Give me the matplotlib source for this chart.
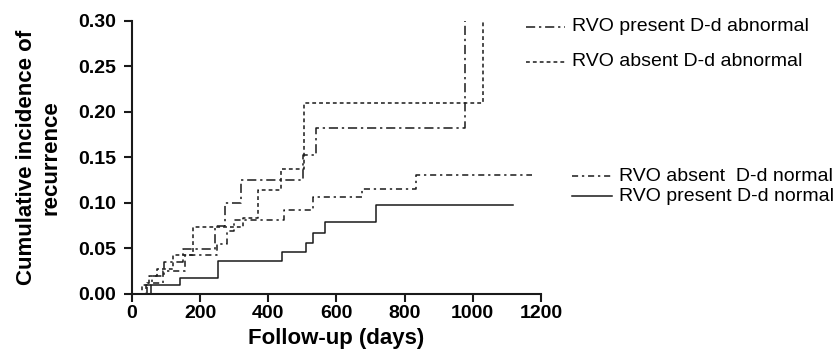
import matplotlib
matplotlib.use("Agg")
import matplotlib.pyplot as plt
from matplotlib.lines import Line2D

plt.rcParams['font.family'] = ['Liberation Sans', 'DejaVu Sans']

# step curves (days, cumulative incidence)
pres_abn_days = [0, 40, 60, 95, 150, 244, 274, 321, 501, 540, 976]
pres_abn_vals = [0, 0.009, 0.019, 0.035, 0.049, 0.074, 0.100, 0.125, 0.152, 0.182, 0.60]

abs_abn_days = [0, 30, 50, 75, 120, 178, 325, 369, 438, 506, 1030]
abs_abn_vals = [0, 0.009, 0.019, 0.027, 0.042, 0.0736, 0.083, 0.114, 0.137, 0.209, 0.60]

abs_norm_days = [0, 45, 90, 155, 250, 280, 300, 447, 530, 676, 834, 1175]
abs_norm_vals = [0, 0.012, 0.025, 0.042, 0.055, 0.069, 0.081, 0.092, 0.106, 0.115, 0.130, 0.130]

pres_norm_days = [0, 55, 140, 252, 440, 512, 531, 566, 715, 1117]
pres_norm_vals = [0, 0.0092, 0.0176, 0.036, 0.0455, 0.056, 0.067, 0.0788, 0.0975, 0.0975]

labels = ["RVO present D-d abnormal", "RVO absent D-d abnormal",
          "RVO absent  D-d normal", "RVO present D-d normal"]
xticks = [0, 200, 400, 600, 800, 1000, 1200]
yticks = [0.00, 0.05, 0.10, 0.15, 0.20, 0.25, 0.30]

col = '#1a1a1a'
ls_pres_abn = (0, (6, 2.5, 1.5, 2.5))
ls_abs_abn = (0, (2.5, 2))
ls_abs_norm = (0, (4, 2.5, 1.5, 2.5))
ls_pres_norm = '-'

fig = plt.figure(figsize=(8.4, 3.63), dpi=100)
ax = fig.add_axes([0.157, 0.191, 0.487, 0.752])

ax.plot(pres_abn_days, pres_abn_vals, drawstyle='steps-post', color=col, lw=1.1, ls=ls_pres_abn)
ax.plot(abs_abn_days, abs_abn_vals, drawstyle='steps-post', color=col, lw=1.1, ls=ls_abs_abn)
ax.plot(abs_norm_days, abs_norm_vals, drawstyle='steps-post', color=col, lw=1.1, ls=ls_abs_norm)
ax.plot(pres_norm_days, pres_norm_vals, drawstyle='steps-post', color=col, lw=1.1, ls=ls_pres_norm)

ax.set_xlim(0, 1200)
ax.set_ylim(0, 0.30)
ax.set_xticks(xticks)
ax.set_yticks(yticks)
ax.set_yticklabels(['%.2f' % v for v in yticks])
ax.spines['top'].set_visible(False)
ax.spines['right'].set_visible(False)
for s in ['left', 'bottom']:
    ax.spines[s].set_linewidth(1.5)
    ax.spines[s].set_color(col)
ax.tick_params(axis='both', length=5.5, width=1.5, color=col, labelsize=14)
ax.tick_params(axis='y', pad=6)
ax.tick_params(axis='x', pad=3)
for t in ax.get_xticklabels() + ax.get_yticklabels():
    t.set_fontweight('bold')

ax.set_xlabel("Follow-up (days)", fontsize=16, fontweight='bold', labelpad=4)
ax.set_ylabel("Cumulative incidence of\nrecurrence", fontsize=16, fontweight='bold', labelpad=12)

# legend drawn as separate entries like the original
entries = [
    (0.626, 0.673, 0.926, ls_pres_abn, labels[0]),
    (0.626, 0.673, 0.830, ls_abs_abn, labels[1]),
    (0.681, 0.729, 0.515, ls_abs_norm, labels[2]),
    (0.681, 0.729, 0.460, ls_pres_norm, labels[3]),
]
for x0, x1, y, ls, lab in entries:
    fig.add_artist(Line2D([x0, x1], [y, y], transform=fig.transFigure, color=col, lw=1.1, ls=ls))
    fig.text(x1 + 0.008, y, lab, fontsize=14, va='center', ha='left', color='black')

fig.savefig('out.png', dpi=100)
